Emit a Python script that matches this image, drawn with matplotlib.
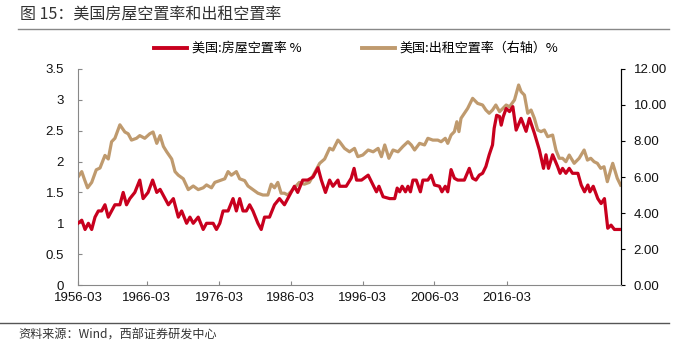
import matplotlib
matplotlib.use("Agg")
import matplotlib.pyplot as plt
from matplotlib.lines import Line2D

plt.rcParams['font.family'] = ['Noto Sans CJK SC', 'DejaVu Sans']

# 美国:房屋空置率 %  (左轴)
home_t = [1956.0, 1956.45, 1956.85, 1957.25, 1957.65, 1958.05, 1958.45, 1958.85, 1959.25, 1959.65,
          1960.05, 1960.45, 1961.05, 1961.45, 1961.85, 1962.25, 1962.85, 1963.45, 1963.85, 1964.45,
          1965.0, 1965.5, 1965.9, 1966.5, 1966.9, 1967.5, 1968.1, 1968.5, 1969.1, 1969.5,
          1969.9, 1970.5, 1971.1, 1971.5, 1972.3, 1972.7, 1973.1, 1973.5, 1974.1, 1974.7,
          1975.1, 1975.5, 1975.9, 1976.3, 1976.7, 1977.1, 1977.7, 1978.1, 1978.5, 1979.1,
          1979.7, 1980.3, 1980.9, 1981.5, 1982.1, 1982.5, 1983.1, 1983.7, 1984.35, 1984.95,
          1985.35, 1985.85, 1986.35, 1986.75, 1987.35, 1987.55, 1988.35, 1988.95, 1989.3, 1989.6,
          1990.2, 1991.0, 1991.6, 1992.0, 1992.3, 1992.8, 1993.6, 1994.2, 1994.5, 1994.8,
          1995.1, 1995.5, 1995.8, 1996.1, 1996.4, 1996.8, 1997.3, 1997.6, 1998.2, 1998.6,
          1999.0, 1999.6, 1999.9, 2000.3, 2000.6, 2001.0, 2001.4, 2001.8, 2002.6, 2003.2,
          2003.6, 2004.0, 2004.4, 2004.8, 2005.2, 2005.6, 2006.0, 2006.2, 2006.5, 2006.85,
          2007.05, 2007.3, 2007.65, 2008.05, 2008.45, 2008.85, 2009.45, 2010.05, 2010.45, 2011.05,
          2011.65, 2012.15, 2012.45, 2012.75, 2013.25, 2013.85, 2014.15, 2014.45, 2014.85, 2015.25,
          2015.65, 2016.3, 2016.7, 2017.1, 2017.5, 2017.75, 2018.15, 2018.7, 2019.1, 2019.5,
          2019.9, 2020.3, 2020.7, 2021.5]
home_v = [1.0, 1.05, 0.9, 1.0, 0.9, 1.1, 1.2, 1.2, 1.3, 1.1,
          1.2, 1.3, 1.3, 1.5, 1.3, 1.4, 1.5, 1.7, 1.4, 1.5,
          1.7, 1.5, 1.55, 1.4, 1.3, 1.4, 1.1, 1.2, 1.0, 1.1,
          1.0, 1.1, 0.9, 1.0, 1.0, 0.9, 1.0, 1.2, 1.2, 1.4,
          1.2, 1.4, 1.2, 1.2, 1.3, 1.2, 1.0, 0.9, 1.1, 1.1,
          1.3, 1.4, 1.3, 1.45, 1.6, 1.5, 1.7, 1.7, 1.75, 1.9,
          1.7, 1.5, 1.7, 1.6, 1.7, 1.6, 1.6, 1.73, 1.89, 1.7,
          1.7, 1.78, 1.62, 1.51, 1.6, 1.43, 1.4, 1.4, 1.57, 1.51,
          1.6, 1.51, 1.6, 1.51, 1.7, 1.7, 1.51, 1.7, 1.7, 1.78,
          1.62, 1.6, 1.51, 1.6, 1.51, 1.87, 1.73, 1.7, 1.7, 1.89,
          1.73, 1.7, 1.78, 1.81, 1.92, 2.11, 2.27, 2.54, 2.75, 2.73,
          2.59, 2.73, 2.86, 2.81, 2.89, 2.51, 2.7, 2.49, 2.7, 2.46,
          2.19, 1.89, 2.11, 1.89, 2.11, 1.92, 1.81, 1.89, 1.81, 1.89,
          1.81, 1.81, 1.62, 1.51, 1.62, 1.51, 1.6, 1.4, 1.32, 1.4,
          0.92, 0.97, 0.9, 0.9]

# 美国:出租空置率（右轴）%
rent_t = [1956.0, 1956.45, 1956.75, 1957.15, 1957.65, 1958.2, 1958.65, 1959.25, 1959.65, 1960.05,
          1960.45, 1961.05, 1961.65, 1962.05, 1962.45, 1963.05, 1963.45, 1964.05, 1964.65, 1965.05,
          1965.5, 1965.9, 1966.3, 1966.7, 1967.3, 1967.7, 1968.1, 1968.7, 1969.3, 1969.9,
          1970.5, 1971.1, 1971.5, 1972.1, 1972.5, 1973.1, 1973.7, 1974.1, 1974.5, 1975.1,
          1975.5, 1976.1, 1976.5, 1977.1, 1977.7, 1978.3, 1978.9, 1979.3, 1979.7, 1980.1,
          1980.5, 1980.9, 1981.3, 1981.7, 1982.3, 1982.7, 1983.3, 1983.9, 1984.5, 1985.15,
          1985.75, 1986.35, 1986.75, 1987.35, 1987.55, 1988.15, 1988.75, 1989.35, 1989.75, 1990.35,
          1991.0, 1991.6, 1992.2, 1992.6, 1993.0, 1993.5, 1994.0, 1994.6, 1995.2, 1995.8,
          1996.2, 1996.6, 1997.2, 1997.8, 1998.2, 1998.8, 1999.4, 1999.8, 2000.3, 2000.6,
          2001.0, 2001.4, 2001.7, 2001.95, 2002.2, 2002.6, 2003.0, 2003.6, 2004.2, 2004.8,
          2005.2, 2005.6, 2006.0, 2006.4, 2006.85, 2007.25, 2007.65, 2008.05, 2008.65, 2009.15,
          2009.45, 2009.85, 2010.25, 2010.65, 2011.05, 2011.45, 2011.85, 2012.25, 2012.65, 2013.25,
          2013.65, 2014.05, 2014.45, 2014.85, 2015.25, 2015.85, 2016.45, 2017.05, 2017.45, 2017.85,
          2018.25, 2018.65, 2019.05, 2019.45, 2019.85, 2020.25, 2020.5, 2021.05, 2021.45]
rent_v = [6.0, 6.3, 5.9, 5.4, 5.7, 6.4, 6.5, 7.2, 7.0, 7.96,
          8.15, 8.9, 8.5, 8.4, 8.05, 8.15, 8.3, 8.15, 8.4, 8.5,
          7.87, 8.3, 7.7, 7.4, 7.0, 6.3, 6.1, 5.9, 5.3, 5.5,
          5.3, 5.4, 5.56, 5.4, 5.7, 5.8, 5.9, 6.3, 6.1, 6.3,
          5.9, 5.8, 5.5, 5.3, 5.1, 5.0, 5.0, 5.6, 5.4, 5.7,
          5.1, 5.1, 5.0, 5.2, 5.5, 5.7, 5.6, 5.7, 6.2, 6.76,
          7.0, 7.6, 7.5, 8.05, 7.96, 7.59, 7.4, 7.59, 7.13, 7.22,
          7.5, 7.4, 7.59, 7.13, 7.78, 7.04, 7.5, 7.4, 7.7, 7.96,
          7.78, 7.5, 7.87, 7.78, 8.15, 8.05, 8.05, 7.96, 8.15, 7.87,
          8.33, 8.52, 9.07, 8.52, 9.26, 9.54, 9.81, 10.37, 10.09, 10.0,
          9.72, 9.54, 9.72, 10.0, 9.63, 9.81, 10.0, 9.9, 10.28, 11.11,
          10.74, 10.55, 9.54, 9.72, 9.26, 8.61, 8.52, 8.61, 8.24, 8.33,
          7.5, 7.04, 7.04, 6.85, 7.22, 6.76, 7.04, 7.5, 6.94, 7.04,
          6.85, 6.76, 6.48, 6.57, 5.74, 6.39, 6.76, 5.93, 5.55]

tick_labels = ['1956-03', '1966-03', '1976-03', '1986-03', '1996-03', '2006-03', '2016-03']
tick_pos = [1956.0, 1964.3, 1973.0, 1981.66, 1990.34, 1999.0, 2007.7]

RED = '#C8001E'
TAN = '#BF9A6E'
NUM_FONT = 'Liberation Sans'

fig = plt.figure(figsize=(6.79, 3.52), dpi=100)
ax = fig.add_axes([0.1149, 0.1903, 0.7997, 0.6137])
ax2 = ax.twinx()

ax.plot(home_t, home_v, color=RED, lw=2.3, solid_joinstyle='round', zorder=3)
ax2.plot(rent_t, rent_v, color=TAN, lw=2.3, solid_joinstyle='round')
ax.set_zorder(ax2.get_zorder() + 1)
ax.patch.set_visible(False)

ax.set_xlim(1956.0, 2021.5)
ax.set_ylim(0, 3.5)
ax2.set_ylim(0, 12)
ax.set_yticks([0, 0.5, 1, 1.5, 2, 2.5, 3, 3.5])
ax.set_yticklabels(['0', '0.5', '1', '1.5', '2', '2.5', '3', '3.5'])
ax2.set_yticks(range(0, 13, 2))
ax2.set_yticklabels(['%.2f' % v for v in range(0, 13, 2)])
ax.set_xticks(tick_pos)
ax.set_xticklabels(tick_labels)

for a in (ax, ax2):
    a.spines['top'].set_visible(False)
ax.spines['left'].set_color('#888888')
ax.spines['bottom'].set_color('#888888')
ax2.spines['left'].set_visible(False)
ax2.spines['bottom'].set_visible(False)
ax2.spines['right'].set_color('black')

ax.tick_params(axis='y', direction='in', length=3, color='#888888', pad=10, labelsize=9.5)
ax.tick_params(axis='x', direction='in', length=3, color='#888888', pad=5, labelsize=9.5)
ax2.tick_params(axis='y', direction='out', length=3, color='black', pad=6, labelsize=9.5)
for lab in ax.get_xticklabels() + ax.get_yticklabels() + ax2.get_yticklabels():
    lab.set_fontfamily(NUM_FONT)
    lab.set_color('#111111')

# title and rules
fig.text(0.029, 0.958, '图 15：美国房屋空置率和出租空置率', fontsize=11.5, color='#333333',
         va='center', ha='left')
fig.add_artist(Line2D([0.027, 0.985], [0.917, 0.917], color='#888888', lw=1.0))
fig.add_artist(Line2D([0.0, 0.985], [0.082, 0.082], color='#555555', lw=1.0))
fig.text(0.027, 0.048, '资料来源：Wind，西部证券研发中心', fontsize=8.7, color='#333333',
         va='center', ha='left')

# legend
h1 = Line2D([], [], color=RED, lw=2.8)
h2 = Line2D([], [], color=TAN, lw=2.8)
fig.legend([h1, h2], ['美国:房屋空置率 %', '美国:出租空置率（右轴）%'],
           loc='center', bbox_to_anchor=(0.525, 0.862), ncol=2, frameon=False,
           fontsize=9.4, handlelength=2.5, handletextpad=0.4, columnspacing=4.6)

fig.savefig('out.png', dpi=100)
